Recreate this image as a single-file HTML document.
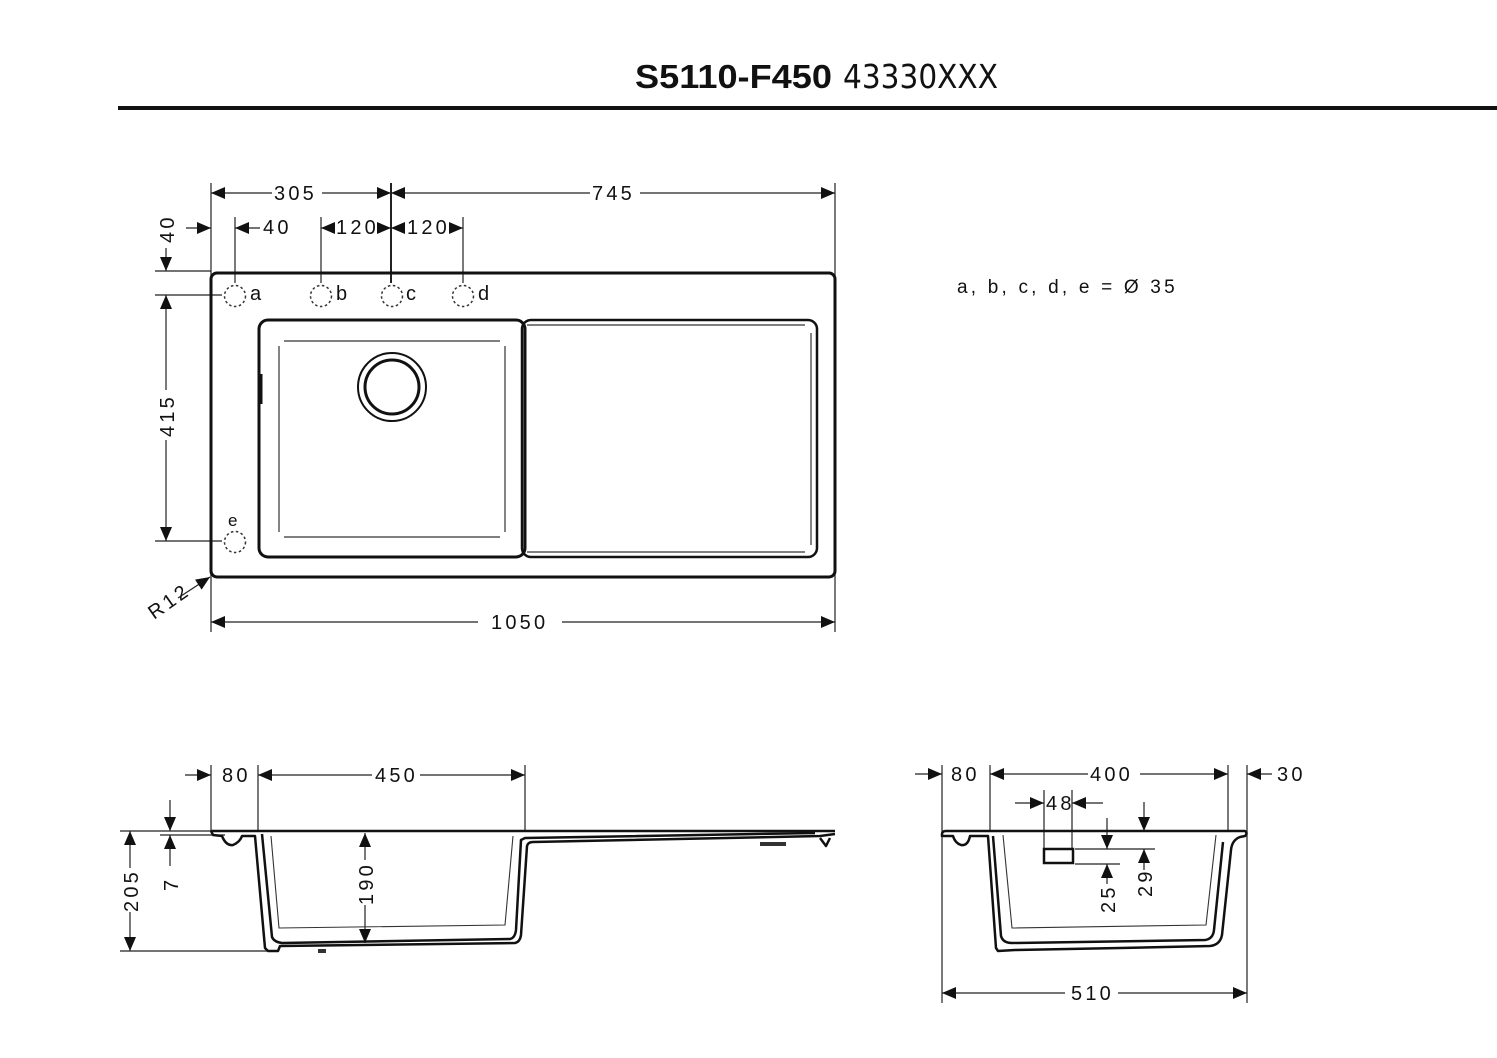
<!DOCTYPE html>
<html><head><meta charset="utf-8"><style>
html,body{margin:0;padding:0;background:#fff;}
svg{display:block;}
text{font-family:"Liberation Sans",sans-serif;fill:#111;}
.d{font-size:20px;letter-spacing:3.2px;}
</style></head><body>
<svg width="1497" height="1058" viewBox="0 0 1497 1058" xmlns="http://www.w3.org/2000/svg">
<defs>
<marker id="a" markerUnits="userSpaceOnUse" markerWidth="14" markerHeight="12" refX="14" refY="6" orient="auto-start-reverse">
<path d="M0,0 L14,6 L0,12 z" fill="#111"/></marker>
</defs>
<!-- Title -->
<text x="635" y="88" font-size="33" font-weight="bold" textLength="197" lengthAdjust="spacingAndGlyphs">S5110-F450</text>
<text x="843" y="88" font-size="33" style="font-family:'DejaVu Sans','Liberation Sans',sans-serif" textLength="155" lengthAdjust="spacingAndGlyphs">43330XXX</text>
<rect x="118" y="106" width="1379" height="4" fill="#111"/>

<g stroke="#222" stroke-width="1.2" fill="none">
<line x1="211" y1="183" x2="211" y2="632"/>
<line x1="391" y1="183" x2="391" y2="283" stroke-width="2"/>
<line x1="835" y1="183" x2="835" y2="632"/>
<line x1="235" y1="217" x2="235" y2="283"/>
<line x1="321" y1="217" x2="321" y2="283"/>
<line x1="463" y1="217" x2="463" y2="283"/>
<line x1="155" y1="271" x2="211" y2="271"/>
<line x1="155" y1="295" x2="222" y2="295"/>
<line x1="155" y1="541" x2="222" y2="541"/>
</g>
<g stroke="#222" stroke-width="1.2" fill="none">
<line x1="211" y1="193" x2="272" y2="193" marker-start="url(#a)"/>
<line x1="322" y1="193" x2="391" y2="193" marker-end="url(#a)"/>
<line x1="391" y1="193" x2="590" y2="193" marker-start="url(#a)"/>
<line x1="640" y1="193" x2="835" y2="193" marker-end="url(#a)"/>
<line x1="186" y1="228" x2="211" y2="228" marker-end="url(#a)"/>
<line x1="235" y1="228" x2="260" y2="228" marker-start="url(#a)"/>
<line x1="321" y1="228" x2="335" y2="228" marker-start="url(#a)"/>
<line x1="377" y1="228" x2="391" y2="228" marker-end="url(#a)"/>
<line x1="391" y1="228" x2="405" y2="228" marker-start="url(#a)"/>
<line x1="449" y1="228" x2="463" y2="228" marker-end="url(#a)"/>
<line x1="166" y1="248" x2="166" y2="271" marker-end="url(#a)"/>
<line x1="166" y1="295" x2="166" y2="390" marker-start="url(#a)"/>
<line x1="166" y1="440" x2="166" y2="541" marker-end="url(#a)"/>
<line x1="178" y1="598" x2="210" y2="577" marker-end="url(#a)"/>
<line x1="211" y1="622" x2="478" y2="622" marker-start="url(#a)"/>
<line x1="562" y1="622" x2="835" y2="622" marker-end="url(#a)"/>
</g>
<text class="d" x="274" y="200">305</text>
<text class="d" x="592" y="200">745</text>
<text class="d" x="263" y="234">40</text>
<text class="d" x="336" y="234">120</text>
<text class="d" x="407" y="234">120</text>
<text class="d" transform="translate(174,243) rotate(-90)">40</text>
<text class="d" transform="translate(174,437) rotate(-90)">415</text>
<text class="d" transform="translate(154,620) rotate(-35)">R12</text>
<text class="d" x="491" y="629">1050</text>

<rect x="211" y="273" width="624" height="304" rx="6" fill="none" stroke="#111" stroke-width="3"/>
<rect x="259" y="320" width="266" height="237" rx="9" fill="none" stroke="#111" stroke-width="3"/>
<rect x="522" y="320" width="295" height="237" rx="9" fill="none" stroke="#111" stroke-width="2.5"/>
<g stroke="#333" stroke-width="1.2" fill="none">
<line x1="284" y1="341" x2="500" y2="341"/>
<line x1="284" y1="537" x2="500" y2="537"/>
<line x1="279" y1="346" x2="279" y2="532"/>
<line x1="505" y1="346" x2="505" y2="532"/>
<line x1="527" y1="325" x2="805" y2="325"/>
<line x1="527" y1="552" x2="805" y2="552"/>
<line x1="811" y1="333" x2="811" y2="545"/>
</g>
<line x1="261" y1="374" x2="261" y2="404" stroke="#111" stroke-width="3"/>
<circle cx="392" cy="387" r="34" fill="none" stroke="#111" stroke-width="2"/>
<circle cx="392" cy="387" r="27" fill="none" stroke="#111" stroke-width="3"/>
<g fill="none" stroke="#333" stroke-width="1.5" stroke-dasharray="2.5,2.5">
<circle cx="235" cy="296" r="10.5"/><circle cx="321" cy="296" r="10.5"/>
<circle cx="392" cy="296" r="10.5"/><circle cx="463" cy="296" r="10.5"/>
<circle cx="235" cy="542" r="10.5"/>
</g>
<g font-size="20"><text x="250" y="300">a</text><text x="336" y="300">b</text><text x="406" y="300">c</text><text x="478" y="300">d</text><text x="228" y="526" font-size="17">e</text></g>
<text x="957" y="293" font-size="19" style="letter-spacing:3.2px">a, b, c, d, e = Ø 35</text>

<g stroke="#222" stroke-width="1.2" fill="none">
<line x1="211" y1="765" x2="211" y2="831"/>
<line x1="258" y1="765" x2="258" y2="831"/>
<line x1="525" y1="765" x2="525" y2="831"/>
<line x1="120" y1="831" x2="211" y2="831"/>
<line x1="160" y1="835" x2="225" y2="835"/>
<line x1="120" y1="951" x2="268" y2="951"/>
<line x1="185" y1="775" x2="211" y2="775" marker-end="url(#a)"/>
<line x1="258" y1="775" x2="372" y2="775" marker-start="url(#a)"/>
<line x1="420" y1="775" x2="525" y2="775" marker-end="url(#a)"/>
<line x1="170" y1="800" x2="170" y2="831" marker-end="url(#a)"/>
<line x1="170" y1="866" x2="170" y2="835" marker-end="url(#a)"/>
<line x1="130" y1="831" x2="130" y2="868" marker-start="url(#a)"/>
<line x1="130" y1="912" x2="130" y2="951" marker-end="url(#a)"/>
<line x1="365" y1="833" x2="365" y2="860" marker-start="url(#a)"/>
<line x1="365" y1="905" x2="365" y2="943" marker-end="url(#a)"/>
</g>
<text class="d" x="222" y="782">80</text>
<text class="d" x="375" y="782">450</text>
<text class="d" transform="translate(178,891) rotate(-90)">7</text>
<text class="d" transform="translate(138,912) rotate(-90)">205</text>
<text class="d" transform="translate(373,905) rotate(-90)">190</text>
<g fill="none" stroke="#111" stroke-width="2.5" stroke-linejoin="round">
<line x1="211" y1="831" x2="835" y2="831"/>
<path d="M211,831 L213,835 L222,836 Q226,846 233,845 Q240,842 242,836 L255,836 L265,948 L268,951 L278,951 L280,946 L515,943 Q520,942 521,935 L527,846 Q528,842 533,842 L820,836 L835,834"/>
<path d="M262,834 L272,937 Q274,942 282,943 L510,939 Q515,938 516,930 L521,840 L525,838 L815,833"/>
<path d="M820,838 L826,846 L830,838"/>
</g>
<g fill="none" stroke="#333" stroke-width="1.1">
<path d="M271,836 L279,928 L505,925 L513,836"/>
</g>
<rect x="760" y="842" width="26" height="4" fill="#333"/>
<rect x="318" y="949" width="8" height="4" fill="#333"/>

<g stroke="#222" stroke-width="1.2" fill="none">
<line x1="942" y1="765" x2="942" y2="1003"/>
<line x1="990" y1="765" x2="990" y2="831"/>
<line x1="1228" y1="765" x2="1228" y2="831"/>
<line x1="1247" y1="765" x2="1247" y2="1003"/>
<line x1="1044" y1="790" x2="1044" y2="850"/>
<line x1="1072" y1="790" x2="1072" y2="850"/>
<line x1="1075" y1="849" x2="1155" y2="849"/>
<line x1="1075" y1="864" x2="1120" y2="864"/>
<line x1="915" y1="774" x2="942" y2="774" marker-end="url(#a)"/>
<line x1="990" y1="774" x2="1088" y2="774" marker-start="url(#a)"/>
<line x1="1140" y1="774" x2="1228" y2="774" marker-end="url(#a)"/>
<line x1="1272" y1="774" x2="1247" y2="774" marker-end="url(#a)"/>
<line x1="1015" y1="803" x2="1044" y2="803" marker-end="url(#a)"/>
<line x1="1103" y1="803" x2="1072" y2="803" marker-end="url(#a)"/>
<line x1="1107" y1="818" x2="1107" y2="849" marker-end="url(#a)"/>
<line x1="1107" y1="884" x2="1107" y2="864" marker-end="url(#a)"/>
<line x1="1144" y1="802" x2="1144" y2="831" marker-end="url(#a)"/>
<line x1="1144" y1="870" x2="1144" y2="849" marker-end="url(#a)"/>
<line x1="942" y1="993" x2="1065" y2="993" marker-start="url(#a)"/>
<line x1="1118" y1="993" x2="1247" y2="993" marker-end="url(#a)"/>
</g>
<text class="d" x="951" y="781">80</text>
<text class="d" x="1090" y="781">400</text>
<text class="d" x="1277" y="781">30</text>
<text class="d" x="1046" y="810">48</text>
<text class="d" transform="translate(1115,913) rotate(-90)">25</text>
<text class="d" transform="translate(1152,897) rotate(-90)">29</text>
<text class="d" x="1071" y="1000">510</text>
<rect x="1044" y="849" width="29" height="14" fill="none" stroke="#111" stroke-width="2.5"/>
<g fill="none" stroke="#111" stroke-width="2.5" stroke-linejoin="round">
<path d="M942,834 Q942,831 946,831 L1245,831 Q1248,833 1245,836 L1240,837 Q1232,840 1231,850 L1222,935 Q1220,945 1210,946 L1120,948 L1015,950 L998,951 L996,948 L988,836 L970,836 Q968,846 961,845 Q955,843 953,836 L942,836 Z"/>
<path d="M993,836 L1001,936 Q1003,943 1012,943 L1205,940 Q1213,939 1214,930 L1223,842"/>
</g>
<g fill="none" stroke="#333" stroke-width="1.1">
<path d="M1003,835 L1012,928 L1206,925 L1216,835"/>
</g>
</svg>
</body></html>
